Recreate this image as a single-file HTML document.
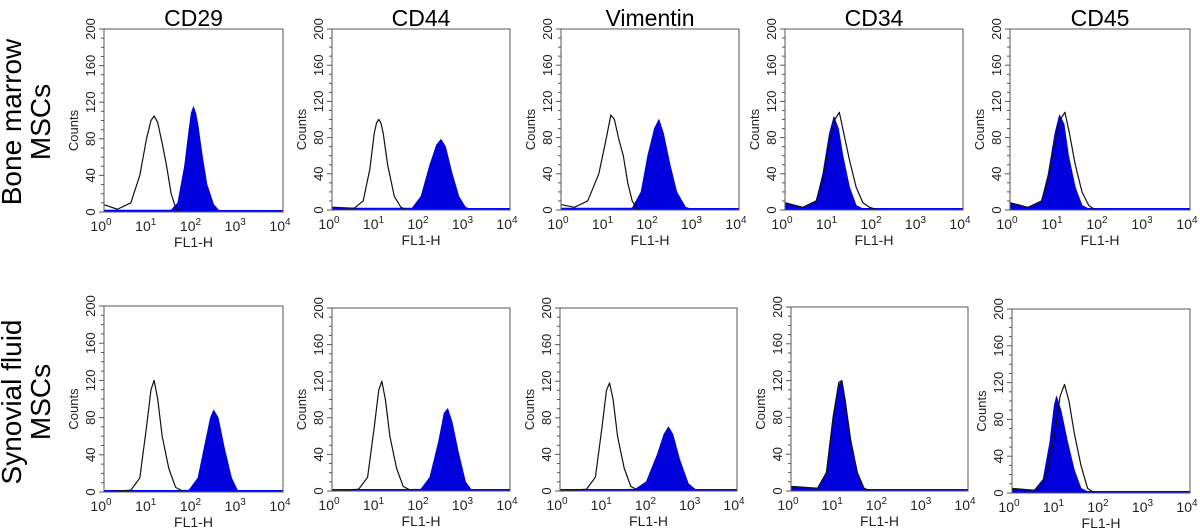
<!DOCTYPE html>
<html><head><meta charset="utf-8">
<style>
body{margin:0;background:#fff;}
svg{display:block;font-family:"Liberation Sans","DejaVu Sans",sans-serif;}
.title{font-size:23px;}
.row{font-size:28px;}
.tk{font-size:13px;fill:#222;}
.xl{font-size:14px;fill:#222;}
</style></head>
<body>
<svg id="c" width="1200" height="530" viewBox="0 0 1200 530"></svg>
<script>
const markers = ["CD29","CD44","Vimentin","CD34","CD45"];
const rowLabels = [["Bone marrow","MSCs"],["Synovial fluid","MSCs"]];
const yTicks = [0,40,80,120,160,200];
const xTicks = [0,1,2,3,4];
// histogram samples: log10(FL1-H) positions and counts
const bmOpenX = [
 [0,0.3,0.6,0.8,0.95,1.05,1.12,1.2,1.3,1.4,1.5,1.6,1.7],
 [0,0.5,0.7,0.85,0.95,1.0,1.05,1.1,1.15,1.25,1.4,1.55,1.7],
 [0,0.3,0.6,0.85,1.0,1.12,1.2,1.3,1.4,1.5,1.6,1.7,1.8],
 [0,0.4,0.7,0.85,1.0,1.12,1.22,1.32,1.45,1.6,1.75,1.9,2.1],
 [0,0.4,0.7,0.85,1.0,1.12,1.22,1.32,1.45,1.6,1.75,1.9]];
const bmOpenY = [
 [8,3,10,40,80,100,105,98,75,50,20,5,0],
 [3,2,10,45,85,96,100,96,85,50,15,3,0],
 [6,3,10,40,75,105,100,78,60,30,10,2,0],
 [8,3,10,35,75,100,108,85,55,25,8,3,0],
 [8,3,10,35,75,100,108,85,50,20,5,0]];
const bmFillX = [
 [0,1.5,1.65,1.8,1.9,1.95,2.0,2.05,2.1,2.2,2.3,2.45,2.6],
 [0,1.8,2.0,2.2,2.35,2.45,2.55,2.7,2.85,3.0,3.15],
 [0,1.6,1.8,1.95,2.1,2.2,2.3,2.45,2.6,2.8,3.0],
 [0,0.4,0.7,0.85,1.0,1.1,1.2,1.3,1.45,1.6,1.8],
 [0,0.4,0.7,0.85,1.0,1.1,1.2,1.3,1.45,1.6,1.8]];
const bmFillY = [
 [2,2,10,50,90,108,115,108,95,60,30,8,0],
 [2,2,15,50,72,78,70,40,15,3,0],
 [2,2,20,60,90,100,85,50,20,3,0],
 [8,3,10,40,85,103,90,60,25,5,0],
 [8,3,10,40,85,105,95,60,25,5,0]];
const sfOpenX = [
 [0,0.6,0.8,0.95,1.05,1.12,1.2,1.3,1.45,1.6,1.8],
 [0,0.6,0.8,0.95,1.05,1.12,1.2,1.3,1.45,1.6,1.8],
 [0,0.6,0.8,0.95,1.05,1.12,1.2,1.3,1.45,1.6,1.8],
 [0,0.6,0.8,0.95,1.08,1.15,1.22,1.35,1.5,1.65,1.8],
 [0,0.5,0.75,0.95,1.08,1.18,1.28,1.4,1.55,1.7,1.85]];
const sfOpenY = [
 [0,2,15,70,110,120,100,60,25,5,0],
 [0,2,15,70,110,120,100,60,25,5,0],
 [0,2,15,70,110,118,100,60,25,5,0],
 [5,3,20,80,118,120,100,55,20,3,0],
 [5,3,15,60,105,118,100,65,30,5,0]];
const sfFillX = [
 [0,1.9,2.1,2.25,2.38,2.45,2.55,2.7,2.85,3.0],
 [0,2.0,2.2,2.4,2.52,2.6,2.7,2.85,3.0,3.15],
 [0,1.7,1.95,2.2,2.35,2.45,2.55,2.7,2.9,3.1],
 [0,0.6,0.8,0.95,1.08,1.15,1.22,1.35,1.5,1.65,1.8],
 [0,0.5,0.7,0.85,0.95,1.0,1.1,1.25,1.4,1.55,1.75]];
const sfFillY = [
 [0,2,15,50,80,88,80,45,15,0],
 [0,2,15,55,85,90,75,40,10,0],
 [0,2,10,40,62,70,62,35,8,0],
 [5,3,20,80,115,120,100,55,20,3,0],
 [5,3,15,55,95,105,90,55,25,5,0]];

const boxes = [
 [[104,283,29,212],[332,510,29,210],[561,739,29,210],[785,963,29,210],[1010,1190,29,210]],
 [[104,283,306,492],[332,510,308,491],[560,737,308,491],[791,968,307,491],[1012,1190,309,493]]];

const NS="http://www.w3.org/2000/svg";
const svg=document.getElementById('c');
function mk(t,a,p){const e=document.createElementNS(NS,t);for(const k in a)e.setAttribute(k,a[k]);(p||svg).appendChild(e);return e;}

markers.forEach((m,i)=>{
 const b=boxes[0][i];
 const t=mk('text',{x:(b[0]+b[1])/2,y:26,'text-anchor':'middle',class:'title'});
 t.textContent=m;
 
 
});
rowLabels.forEach((r,ri)=>{
 const cy=ri?402:122;
 r.forEach((s,j)=>{
  const x=j?50:21;
  const t=mk('text',{x:x,y:cy,'text-anchor':'middle',class:'row',transform:`rotate(-90 ${x} ${cy})`});
  t.textContent=s;
  
  
 });
});

function panel(ri,ci,ox,oy,fx,fy){
 const [L,R,T,B]=boxes[ri][ci];
 const g=mk('g',{});
 
 
 const X=v=>L+(R-L)*v/4, Y=v=>B-(B-T)*v/200;
 let d=`M${X(fx[0])},${B}`;
 fx.forEach((v,k)=>d+=`L${X(v)},${Y(fy[k])}`);
 d+=`L${X(fx[fx.length-1])},${B}Z`;
 const f=mk('path',{d:d,fill:'#0000dd',stroke:'#0000dd','stroke-width':0.8,'stroke-linejoin':'round'},g);
 
 
 const bl=mk('line',{x1:L,x2:R,y1:B-1,y2:B-1,stroke:'#0000ff','stroke-width':2},g);
 
 
 let d2='';
 ox.forEach((v,k)=>d2+=(k?'L':'M')+X(v)+','+Y(oy[k]));
 const o=mk('path',{d:d2,fill:'none',stroke:'#111','stroke-width':1.2,'stroke-linejoin':'round'},g);
 
 
 const fr=mk('rect',{x:L,y:T,width:R-L,height:B-T,fill:'none',stroke:'#555','stroke-width':1},g);
 
 
 for(let v=0;v<=200;v+=10){
  mk('line',{x1:L-(v%40?3:5),x2:L,y1:Y(v),y2:Y(v),stroke:'#555','stroke-width':1},g);
 }
 yTicks.forEach(v=>{
  const x=L-9,y=Y(v);
  const t=mk('text',{x:x,y:y,'text-anchor':'middle',class:'tk',transform:`rotate(-90 ${x} ${y})`},g);
  t.textContent=v;
  
  
 });
 const cx=L-26,cy=(T+B)/2+10;
 const ct=mk('text',{x:cx,y:cy,'text-anchor':'middle',class:'tk',transform:`rotate(-90 ${cx} ${cy})`},g);
 ct.textContent='Counts';
 
 
 xTicks.forEach(v=>{
  const t=mk('text',{x:X(v)-3,y:B+19,'text-anchor':'middle',class:'xl'},g);
  t.textContent='10';
  const s=mk('tspan',{dy:-6,'font-size':'10'},t);
  s.textContent=v;
  
  
 });
 const xt=mk('text',{x:(L+R)/2,y:B+35,'text-anchor':'middle',class:'xl'},g);
 xt.textContent='FL1-H';
 
 
}
for(let i=0;i<5;i++){
 panel(0,i,bmOpenX[i],bmOpenY[i],bmFillX[i],bmFillY[i]);
 panel(1,i,sfOpenX[i],sfOpenY[i],sfFillX[i],sfFillY[i]);
}
</script>
</body></html>
